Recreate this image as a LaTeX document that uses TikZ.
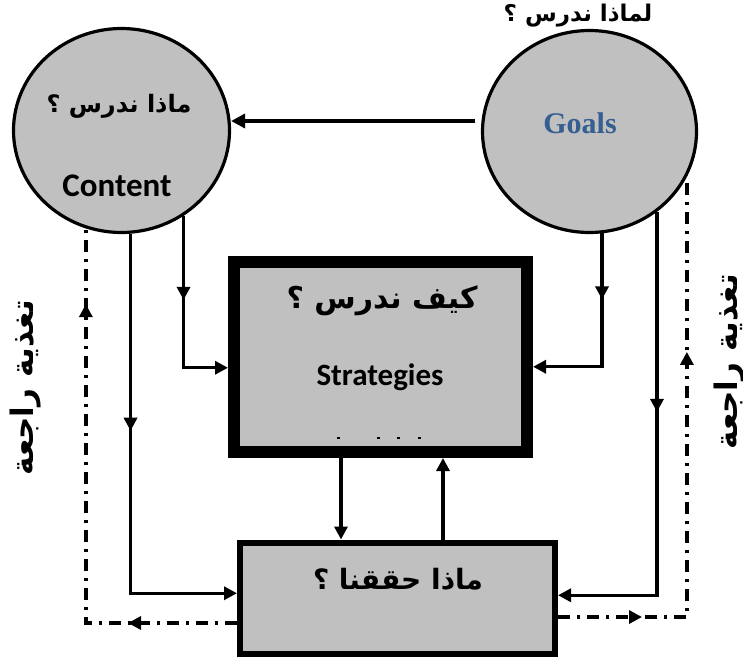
\documentclass[tikz,border=0pt]{standalone}
\usepackage{fontspec}
\setmainfont{Carlito}
\newfontfamily\arabicfont[Script=Arabic]{DejaVu Sans}
\newfontfamily\goalfont{Liberation Serif}
\TeXXeTstate=1
\usetikzlibrary{arrows.meta,decorations.markings,shapes.geometric}
\definecolor{boxgray}{HTML}{C0C0C0}
\definecolor{goalblue}{HTML}{365F91}
\begin{document}
\begin{tikzpicture}[x=1pt,y=-1pt,
  bubble/.style={ellipse,draw,fill=boxgray,line width=3.2pt,inner sep=0pt},
  conn/.style={line width=3.4pt},
  endtip/.style={-{Triangle[length=13pt,width=13pt]}},
  fb/.style={line width=3.4pt,dash pattern=on 12pt off 7pt on 3pt off 7pt},
  midtip/.style={postaction={decorate},decoration={markings,
     mark=at position #1 with {\arrow{Triangle[length=13pt,width=13pt]}}}},
  twotips/.style 2 args={postaction={decorate},decoration={markings,
     mark=at position #1 with {\arrow{Triangle[length=13pt,width=13pt]}},
     mark=at position #2 with {\arrow{Triangle[length=13pt,width=13pt]}}}},
  artext/.style={font=\arabicfont\bfseries},
  entext/.style={font=\bfseries}
]
\useasboundingbox (0,0) rectangle (743,661);

% main shapes
\node[bubble,minimum width=216pt,minimum height=204pt] (content) at (121.5,130.5) {};
\node[bubble,minimum width=214pt,minimum height=202pt] (goals) at (589.5,131.5) {};
\node[rectangle,draw,fill=boxgray,line width=12pt,minimum width=293pt,minimum height=190.5pt,inner sep=0pt] (strat) at (380.5,356.75) {};
\node[rectangle,draw,fill=boxgray,line width=6pt,minimum width=315pt,minimum height=111.5pt,inner sep=0pt] (eval) at (397.5,598.25) {};

% texts
\node[artext,font=\arabicfont\bfseries\fontsize{23}{27}\selectfont] (whyq) at (578,16) {\beginR لماذا ندرس ؟\endR};
\node[artext,font=\arabicfont\bfseries\fontsize{24}{28}\selectfont] (whatq) at (119,106) {\beginR ماذا ندرس ؟\endR};
\node[entext,font=\bfseries\fontsize{33}{37}\selectfont] (contentlbl) at (117,186) {Content};
\node[font=\goalfont\bfseries\fontsize{30}{34}\selectfont,text=goalblue] (goalslbl) at (580,123) {Goals};
\node[artext,font=\arabicfont\bfseries\fontsize{30}{34}\selectfont] (howq) at (382,301) {\beginR كيف ندرس ؟\endR};
\node[entext,font=\bfseries\fontsize{31}{35}\selectfont] (stratlbl) at (380,377) {Strategies};
\node[artext,font=\arabicfont\bfseries\fontsize{28}{32}\selectfont] (achq) at (398,579) {\beginR ماذا حققنا ؟\endR};
\node[artext,font=\arabicfont\bfseries\fontsize{31}{35}\selectfont,rotate=90] (fbleft) at (26,388) {\beginR تغذية راجعة\endR};
\node[artext,font=\arabicfont\bfseries\fontsize{31}{35}\selectfont,rotate=90] (fbright) at (729,362) {\beginR تغذية راجعة\endR};

% small marks inside strategies box
\foreach \xx in {337,377,397,418} \fill (\xx,437) rectangle ++(3,2);

% connectors
\coordinate (gstart) at (475,121);
\draw[line width=4.2pt,-{Triangle[length=14pt,width=14pt]}] (gstart) -- (content.east |- gstart);

\draw[conn,endtip,midtip=84pt] (content.-54) |- ([yshift=-11pt]strat.west);
\draw[conn,endtip,midtip=197pt] (content.-85) |- ([yshift=5pt]eval.west);
\draw[conn,endtip,midtip=66pt] (goals.-83) |- ([yshift=-10pt]strat.east);
\draw[conn,endtip,midtip=200pt] (goals.-50) |- ([yshift=3pt]eval.east);

\draw[conn,endtip] ([xshift=-39.5pt]strat.south) -- ([xshift=-56.5pt]eval.north);
\draw[conn,endtip] ([xshift=45.5pt]eval.north) -- ([xshift=62.5pt]strat.south);

\draw[fb,twotips={109pt}{470pt}] ([yshift=-24.75pt]eval.west) -| (content.-110);
\draw[fb,twotips={84pt}{394pt}] ([yshift=-18.75pt]eval.east) -| (goals.-25);
\end{tikzpicture}
\end{document}
